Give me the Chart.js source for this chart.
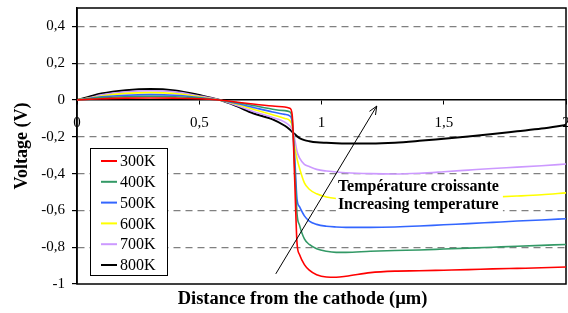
<!DOCTYPE html>
<html>
<head>
<meta charset="utf-8">
<script src="https://cdn.jsdelivr.net/npm/chart.js@4.4.1/dist/chart.umd.min.js"></script>
<style>
  html, body { margin: 0; padding: 0; background: #fff; }
</style>
</head>
<body>
<canvas id="chart" width="568" height="313"></canvas>
<script>
// distance from the cathode (µm)
const distance = [0, 0.05, 0.1, 0.2, 0.3, 0.4, 0.5, 0.58, 0.65, 0.72, 0.8, 0.85, 0.87, 0.88, 0.89, 0.9, 0.91, 0.93, 0.95, 0.98, 1.02, 1.06, 1.1, 1.2, 1.3, 1.4, 1.5, 1.6, 1.7, 1.8, 1.9, 2.0]

// voltage (V) for each temperature
const v300 = [0, 0.004, 0.007, 0.010, 0.011, 0.010, 0.007, 0.000, -0.011, -0.022, -0.033, -0.038, -0.045, -0.08, -0.42, -0.78, -0.84, -0.895, -0.925, -0.95, -0.962, -0.963, -0.958, -0.938, -0.930, -0.928, -0.925, -0.922, -0.918, -0.915, -0.912, -0.908]
const v400 = [0, 0.007, 0.013, 0.018, 0.020, 0.018, 0.011, 0.000, -0.014, -0.030, -0.050, -0.058, -0.064, -0.10, -0.35, -0.62, -0.68, -0.755, -0.785, -0.808, -0.822, -0.828, -0.828, -0.822, -0.818, -0.815, -0.81, -0.805, -0.80, -0.795, -0.79, -0.785]
const v500 = [0, 0.009, 0.017, 0.026, 0.029, 0.026, 0.014, 0.000, -0.018, -0.040, -0.065, -0.078, -0.086, -0.12, -0.30, -0.54, -0.58, -0.63, -0.658, -0.676, -0.686, -0.69, -0.692, -0.692, -0.69, -0.685, -0.678, -0.672, -0.665, -0.658, -0.652, -0.645]
const v600 = [0, 0.010, 0.022, 0.036, 0.040, 0.035, 0.018, 0.000, -0.022, -0.050, -0.080, -0.100, -0.112, -0.14, -0.25, -0.32, -0.37, -0.45, -0.485, -0.51, -0.527, -0.535, -0.538, -0.54, -0.54, -0.538, -0.535, -0.532, -0.528, -0.522, -0.515, -0.505]
const v700 = [0, 0.012, 0.028, 0.045, 0.050, 0.044, 0.022, 0.001, -0.028, -0.062, -0.095, -0.12, -0.14, -0.16, -0.21, -0.28, -0.315, -0.35, -0.362, -0.377, -0.386, -0.391, -0.395, -0.40, -0.402, -0.398, -0.39, -0.381, -0.372, -0.365, -0.357, -0.348]
const v800 = [0, 0.018, 0.035, 0.053, 0.060, 0.052, 0.027, 0.002, -0.032, -0.072, -0.105, -0.14, -0.16, -0.172, -0.185, -0.197, -0.207, -0.218, -0.224, -0.23, -0.233, -0.235, -0.236, -0.236, -0.232, -0.222, -0.21, -0.198, -0.185, -0.17, -0.155, -0.136]

const temperatures = ['300K', '400K', '500K', '600K', '700K', '800K']
const seriesColors = ['#ff0000', '#339966', '#3366ff', '#ffff00', '#cc99ff', '#000000']
const series = [v300, v400, v500, v600, v700, v800]

const xTicks = [0, 0.5, 1, 1.5, 2]
const yTicks = [-1, -0.8, -0.6, -0.4, -0.2, 0, 0.2, 0.4]

// annotation arrow (data coords) and its caption
const arrowFrom = { x: 0.813, y: -0.945 }
const arrowTo = { x: 1.226, y: -0.033 }
const captionLines = ['Température croissante', 'Increasing temperature']
const captionAt = { x: 1.067, y: -0.496 }
const xTitle = 'Distance from the cathode (µm)'

const serif = 'Liberation Serif'

const fmt = v => (v === 0 ? '0' : String(+v.toFixed(1)).replace('.', ','))

const datasets = series.map((vals, i) => ({
    label: temperatures[i],
    data: distance.map((d, j) => ({ x: d, y: vals[j] })),
    borderColor: seriesColors[i],
    backgroundColor: seriesColors[i],
    borderWidth: i === 5 ? 2 : 1.6,
    pointRadius: 0,
    cubicInterpolationMode: 'monotone',
    fill: false,
}))

const decorations = {
    id: 'decorations',
    beforeDatasetsDraw(chart) {
        const { ctx, chartArea: a } = chart
        ctx.save()
        ctx.strokeStyle = '#000'
        ctx.lineWidth = 1.5
        ctx.strokeRect(a.left, a.top, a.right - a.left, a.bottom - a.top)
        ctx.restore()
    },
    afterDatasetsDraw(chart) {
        const { ctx, chartArea: a } = chart
        const xs = chart.scales.x
        const ys = chart.scales.y
        ctx.save()

        // caption with white background
        const cx = xs.getPixelForValue(captionAt.x)
        const cy = ys.getPixelForValue(captionAt.y)
        ctx.font = 'bold 16px "' + serif + '"'
        const w = Math.max(...captionLines.map(t => ctx.measureText(t).width))
        ctx.fillStyle = '#fff'
        ctx.fillRect(cx - 2, cy - 14, w + 6, 37)
        ctx.fillStyle = '#000'
        ctx.textBaseline = 'alphabetic'
        captionLines.forEach((t, i) => ctx.fillText(t, cx, cy + i * 17.5))

        // arrow
        const x1 = xs.getPixelForValue(arrowFrom.x), y1 = ys.getPixelForValue(arrowFrom.y)
        const x2 = xs.getPixelForValue(arrowTo.x), y2 = ys.getPixelForValue(arrowTo.y)
        ctx.strokeStyle = '#000'
        ctx.lineWidth = 1
        ctx.beginPath()
        ctx.moveTo(x1, y1)
        ctx.lineTo(x2, y2)
        const ang = Math.atan2(y2 - y1, x2 - x1)
        const hl = 9
        ctx.moveTo(x2 - hl * Math.cos(ang - 0.4), y2 - hl * Math.sin(ang - 0.4))
        ctx.lineTo(x2, y2)
        ctx.lineTo(x2 - hl * Math.cos(ang + 0.4), y2 - hl * Math.sin(ang + 0.4))
        ctx.stroke()

        // legend box
        const lx = a.left + 13, ly = a.top + 140
        const rowH = 20.8
        ctx.fillStyle = '#fff'
        ctx.fillRect(lx, ly, 77, 127)
        ctx.strokeStyle = '#000'
        ctx.lineWidth = 1
        ctx.strokeRect(lx + 0.5, ly + 0.5, 77, 127)
        ctx.font = '16px "' + serif + '"'
        ctx.textBaseline = 'middle'
        chart.data.datasets.forEach((ds, i) => {
            const ry = ly + 13 + i * rowH
            ctx.strokeStyle = ds.borderColor
            ctx.lineWidth = 2
            ctx.beginPath()
            ctx.moveTo(lx + 11, ry)
            ctx.lineTo(lx + 27, ry)
            ctx.stroke()
            ctx.fillStyle = '#000'
            ctx.fillText(ds.label, lx + 30, ry + 1)
        })
        ctx.restore()
    },
    afterDraw(chart) {
        const { ctx, chartArea: a } = chart
        ctx.save()
        ctx.font = 'bold 18.5px "' + serif + '"'
        ctx.fillStyle = '#000'
        ctx.textAlign = 'center'
        ctx.textBaseline = 'alphabetic'
        ctx.fillText(xTitle, (a.left + a.right) / 2 - 19, a.bottom + 20)
        ctx.restore()
    },
}

new Chart(document.getElementById('chart'), {
    type: 'line',
    data: { datasets },
    plugins: [decorations],
    options: {
        responsive: false,
        animation: false,
        layout: { padding: { top: 8, right: 2, left: 0, bottom: 29 } },
        plugins: { legend: { display: false }, tooltip: { enabled: false } },
        scales: {
            x: {
                type: 'linear',
                position: { y: 0 },
                min: 0,
                max: 2,
                afterBuildTicks: s => { s.ticks = xTicks.map(v => ({ value: v })) },
                afterFit: s => { s.paddingLeft = 0; s.paddingRight = 0 },
                ticks: {
                    callback: fmt,
                    color: '#000',
                    font: { family: serif, size: 15 },
                    padding: 10,
                    maxRotation: 0,
                    autoSkip: false,
                },
                grid: { drawOnChartArea: false, drawTicks: true, tickLength: 4, color: '#000' },
                border: { display: true, color: '#000', width: 1.5 },
            },
            y: {
                type: 'linear',
                position: 'left',
                min: -1,
                max: 0.5,
                afterFit: s => { s.width = 77; s.paddingTop = 0; s.paddingBottom = 0 },
                afterBuildTicks: s => { s.ticks = yTicks.map(v => ({ value: v })) },
                ticks: {
                    callback: fmt,
                    color: '#000',
                    font: { family: serif, size: 15 },
                    padding: 7,
                },
                grid: {
                    color: c => (c.tick && (c.tick.value === 0 || c.tick.value === -1) ? 'rgba(0,0,0,0)' : '#808080'),
                    tickColor: '#000',
                    tickLength: 5,
                    lineWidth: 1.2,
                },
                border: { display: true, color: '#000', width: 1.5, dash: [7, 5] },
                title: {
                    display: true,
                    text: 'Voltage (V)',
                    color: '#000',
                    font: { family: serif, size: 18, weight: 'bold' },
                    padding: { top: 12, bottom: 0 },
                },
            },
        },
    },
})
</script>
</body>
</html>
